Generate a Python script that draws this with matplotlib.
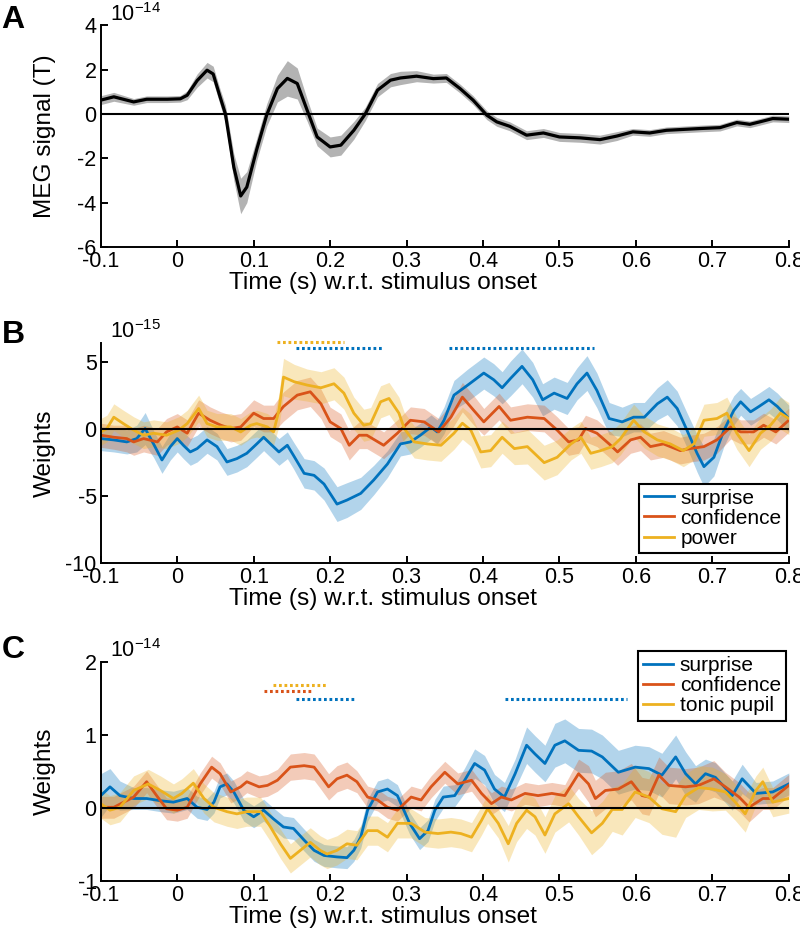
import numpy as np
import matplotlib
matplotlib.use("Agg")
import matplotlib.pyplot as plt

plt.rcParams['font.family'] = ['Liberation Sans', 'DejaVu Sans']
plt.rcParams['axes.unicode_minus'] = False
plt.rcParams['mathtext.fontset'] = 'custom'
plt.rcParams['mathtext.rm'] = 'Liberation Sans'

BLUE = '#0072BD'
RED = '#D95319'
YEL = '#EDB120'

# panel A: MEG signal (units of 1e-14 T)
tA = [-0.1, -0.083, -0.057, -0.04, -0.013, 0.004, 0.013, 0.026, 0.039, 0.047,
      0.056, 0.063, 0.074, 0.083, 0.091, 0.104, 0.117, 0.131, 0.144, 0.157,
      0.170, 0.183, 0.2, 0.214, 0.231, 0.246, 0.262, 0.279, 0.292, 0.313,
      0.335, 0.352, 0.370, 0.387, 0.405, 0.418, 0.435, 0.457, 0.479, 0.5,
      0.527, 0.553, 0.575, 0.596, 0.618, 0.640, 0.684, 0.710, 0.732, 0.749,
      0.762, 0.779, 0.8]
vA = [0.62, 0.77, 0.54, 0.66, 0.66, 0.68, 0.84, 1.5, 1.97, 1.8,
      0.77, 0, -2.4, -3.7, -3.3, -1.6, -0.05, 1.14, 1.6, 1.37,
      0.16, -1.04, -1.49, -1.41, -0.74, 0, 1.07, 1.52, 1.62, 1.70,
      1.59, 1.62, 1.14, 0.62, -0.06, -0.36, -0.56, -0.96, -0.86, -1.04,
      -1.08, -1.16, -1.0, -0.81, -0.86, -0.74, -0.66, -0.62, -0.39, -0.47,
      -0.36, -0.21, -0.24]
eA = [0.2, 0.2, 0.15, 0.15, 0.15, 0.15, 0.2, 0.3, 0.35, 0.35,
      0.35, 0.4, 0.6, 0.8, 0.7, 0.5, 0.5, 0.6, 0.8, 0.7,
      0.5, 0.4, 0.45, 0.45, 0.4, 0.3, 0.3, 0.3, 0.3, 0.25,
      0.2, 0.2, 0.2, 0.2, 0.2, 0.2, 0.2, 0.2, 0.2, 0.2,
      0.2, 0.2, 0.2, 0.15, 0.15, 0.15, 0.15, 0.15, 0.15, 0.15,
      0.15, 0.15, 0.15]

# panel B (units of 1e-15)
tB_surp = [-0.1, -0.083, -0.066, -0.053, -0.042, -0.031, -0.02, -0.009, 0, 0.008,
           0.017, 0.026, 0.039, 0.052, 0.065, 0.078, 0.091, 0.104, 0.113, 0.122,
           0.133, 0.144, 0.152, 0.166, 0.179, 0.192, 0.209, 0.222, 0.240, 0.257,
           0.275, 0.292, 0.305, 0.318, 0.332, 0.340, 0.349, 0.362, 0.380, 0.401,
           0.414, 0.425, 0.436, 0.451, 0.465, 0.478, 0.493, 0.510, 0.523, 0.536,
           0.549, 0.565, 0.582, 0.597, 0.611, 0.628, 0.641, 0.654, 0.667, 0.680,
           0.689, 0.702, 0.715, 0.728, 0.737, 0.750, 0.761, 0.774, 0.785, 0.8]
vB_surp = [-0.7, -0.8, -0.95, -0.7, 0.05, -1.1, -2.3, -1.3, -0.7, -1.2,
           -1.7, -1.45, -0.8, -1.3, -2.45, -2.2, -1.8, -1.1, -0.6, -1.1,
           -1.7, -1.2, -1.95, -3.3, -3.45, -4.1, -5.6, -5.3, -4.8, -3.8,
           -2.6, -1.1, -0.95, -0.45, 0.17, -0.2, 0.67, 2.55, 3.3, 4.2,
           3.7, 3.1, 3.8, 4.7, 3.7, 2.2, 2.7, 2.3, 3.4, 4.2,
           2.9, 0.8, 0.55, 0.9, 0.9, 1.9, 2.4, 1.55, -0.1, -1.8,
           -2.8, -2.1, -0.1, 1.4, 2.05, 1.3, 1.7, 2.2, 1.7, 0.8]
eB_surp = [0.9, 0.9, 0.9, 1.0, 1.2, 1.0, 1.0, 1.0, 1.0, 1.0,
           1.0, 1.0, 1.0, 1.0, 1.0, 1.0, 1.0, 1.0, 1.0, 1.0,
           1.0, 1.0, 1.0, 1.1, 1.1, 1.2, 1.3, 1.3, 1.2, 1.1,
           1.0, 0.9, 0.9, 0.9, 0.9, 0.9, 1.0, 1.1, 1.2, 1.2,
           1.2, 1.2, 1.3, 1.3, 1.3, 1.2, 1.2, 1.2, 1.2, 1.3,
           1.3, 1.2, 1.1, 1.1, 1.1, 1.2, 1.3, 1.3, 1.3, 1.4,
           1.5, 1.4, 1.2, 1.1, 1.0, 1.0, 1.0, 1.0, 1.0, 1.0]

tB_conf = [-0.1, -0.083, -0.066, -0.057, -0.044, -0.026, -0.014, 0, 0.013, 0.028,
           0.043, 0.057, 0.07, 0.083, 0.1, 0.113, 0.126, 0.139, 0.157, 0.174,
           0.188, 0.2, 0.214, 0.225, 0.238, 0.248, 0.270, 0.288, 0.305, 0.323,
           0.342, 0.358, 0.373, 0.388, 0.401, 0.421, 0.436, 0.458, 0.48, 0.497,
           0.512, 0.525, 0.534, 0.549, 0.565, 0.576, 0.593, 0.606, 0.619, 0.636,
           0.658, 0.671, 0.689, 0.706, 0.724, 0.737, 0.754, 0.767, 0.783, 0.8]
vB_conf = [-0.45, -0.6, -0.7, -0.95, -0.7, -0.95, -0.2, 0.17, -0.3, 1.2,
           0.67, 0.3, 0.05, 0.17, 1.2, 0.8, 0.8, 1.7, 2.55, 2.8,
           1.9, 0.55, 0.05, -1.2, -0.45, -0.45, -1.2, -0.3, 0.67, 0.55,
           -0.2, 0.9, 2.4, 1.4, 0.55, 1.7, 0.67, 0.9, 0.8, -0.07,
           -0.95, -0.8, 0.05, -0.3, -1.1, -1.7, -0.8, -0.6, -1.3, -1.1,
           -1.6, -1.45, -1.3, -0.8, 0.17, -0.2, -0.2, 0.3, -0.2, 0.67]
eB_conf = [0.9, 0.9, 1.0, 1.0, 1.0, 1.0, 1.0, 1.0, 1.0, 1.0,
           1.0, 1.0, 1.0, 1.0, 1.0, 1.0, 1.0, 1.1, 1.1, 1.1,
           1.1, 1.1, 1.1, 1.1, 1.0, 1.0, 1.0, 1.0, 1.0, 1.0,
           1.0, 1.0, 1.1, 1.1, 1.0, 1.0, 1.0, 1.0, 1.0, 1.0,
           1.0, 1.0, 1.0, 1.0, 1.0, 1.0, 1.0, 1.0, 1.0, 1.0,
           1.0, 1.0, 1.0, 1.0, 0.9, 0.9, 0.9, 0.9, 0.9, 0.9]

tB_pow = [-0.1, -0.092, -0.083, -0.07, -0.057, -0.044, -0.031, -0.014, 0.002, 0.013,
          0.028, 0.039, 0.052, 0.07, 0.083, 0.096, 0.104, 0.118, 0.126, 0.133,
          0.139, 0.153, 0.170, 0.188, 0.205, 0.218, 0.231, 0.244, 0.253, 0.266,
          0.277, 0.290, 0.297, 0.310, 0.327, 0.345, 0.362, 0.373, 0.384, 0.397,
          0.410, 0.425, 0.441, 0.458, 0.480, 0.497, 0.515, 0.528, 0.541, 0.554,
          0.569, 0.580, 0.597, 0.611, 0.628, 0.645, 0.662, 0.676, 0.689, 0.706,
          0.719, 0.732, 0.748, 0.763, 0.776, 0.789, 0.8]
vB_pow = [-0.2, 0.05, 0.9, 0.4, -0.07, -0.45, -0.3, -0.45, -0.07, 0.42,
          1.55, 0.42, 0.17, 0.17, -0.2, 0.3, 0.42, 0.17, -0.2, 1.4,
          3.9, 3.55, 3.3, 3.1, 3.4, 2.7, 1.2, 0.3, 0.42, 2.05,
          2.3, 1.2, 0.05, -0.95, -1.1, -1.2, -0.3, 0.45, -0.07, -1.7,
          -1.6, -0.6, -1.45, -1.3, -2.5, -2.1, -1.1, -0.6, -1.8, -1.6,
          -1.3, -0.7, 0.67, -0.2, -0.8, -1.1, -1.6, -1.1, 0.67, 0.8,
          1.2, -0.3, -1.6, -0.3, 0.3, 1.2, 0.8]
eB_pow = [1.0, 1.0, 1.0, 1.0, 1.0, 1.0, 1.0, 1.0, 1.0, 1.0,
          1.0, 1.0, 1.0, 1.0, 1.0, 1.0, 1.0, 1.0, 1.0, 1.2,
          1.4, 1.3, 1.2, 1.2, 1.2, 1.2, 1.2, 1.2, 1.2, 1.2,
          1.2, 1.2, 1.2, 1.2, 1.2, 1.2, 1.2, 1.2, 1.2, 1.2,
          1.2, 1.2, 1.2, 1.3, 1.3, 1.3, 1.2, 1.2, 1.2, 1.2,
          1.2, 1.2, 1.2, 1.2, 1.2, 1.2, 1.2, 1.2, 1.2, 1.2,
          1.2, 1.2, 1.2, 1.2, 1.2, 1.2, 1.2]

# significant clusters B: start, end, height, colour
sigB_start = [0.130, 0.155, 0.356]
sigB_end = [0.218, 0.268, 0.545]
sigB_y = [6.5, 6.05, 6.05]
sigB_col = [YEL, BLUE, BLUE]

# panel C (units of 1e-14)
tC_surp = [-0.1, -0.088, -0.075, -0.057, -0.040, -0.022, -0.005, 0.013, 0.026, 0.039,
           0.048, 0.056, 0.065, 0.074, 0.087, 0.1, 0.113, 0.126, 0.139, 0.152,
           0.166, 0.179, 0.192, 0.209, 0.222, 0.231, 0.240, 0.249, 0.262, 0.275,
           0.288, 0.304, 0.317, 0.328, 0.337, 0.348, 0.363, 0.376, 0.389, 0.402,
           0.415, 0.428, 0.442, 0.457, 0.468, 0.481, 0.494, 0.507, 0.525, 0.542,
           0.556, 0.577, 0.599, 0.617, 0.634, 0.652, 0.665, 0.678, 0.691, 0.704,
           0.726, 0.739, 0.757, 0.779, 0.8]
vC_surp = [0.17, 0.29, 0.17, 0.13, 0.13, 0.1, 0.08, 0.13, 0.01, -0.02,
           0.08, 0.29, 0.33, 0.22, -0.03, -0.12, -0.03, -0.15, -0.26, -0.28,
           -0.44, -0.58, -0.65, -0.67, -0.68, -0.58, -0.40, -0.03, 0.22, 0.26,
           0.17, -0.21, -0.42, -0.31, -0.03, 0.15, 0.17, 0.38, 0.61, 0.52,
           0.26, 0.15, 0.47, 0.86, 0.74, 0.61, 0.86, 0.92, 0.79, 0.78,
           0.70, 0.49, 0.56, 0.54, 0.45, 0.70, 0.47, 0.33, 0.47, 0.42,
           0.17, 0.40, 0.20, 0.22, 0.33]
eC_surp = [0.3, 0.25, 0.2, 0.15, 0.15, 0.15, 0.15, 0.15, 0.15, 0.15,
           0.15, 0.15, 0.15, 0.15, 0.15, 0.15, 0.15, 0.15, 0.15, 0.15,
           0.15, 0.15, 0.15, 0.15, 0.15, 0.15, 0.15, 0.15, 0.15, 0.15,
           0.15, 0.15, 0.15, 0.15, 0.15, 0.15, 0.15, 0.17, 0.2, 0.2,
           0.2, 0.2, 0.2, 0.25, 0.25, 0.25, 0.3, 0.3, 0.3, 0.3,
           0.3, 0.3, 0.3, 0.3, 0.3, 0.3, 0.3, 0.25, 0.2, 0.2,
           0.2, 0.2, 0.15, 0.15, 0.15]

tC_conf = [-0.1, -0.083, -0.070, -0.057, -0.040, -0.027, -0.014, 0, 0.013, 0.030,
           0.045, 0.056, 0.070, 0.083, 0.091, 0.107, 0.118, 0.131, 0.148, 0.166,
           0.179, 0.187, 0.198, 0.209, 0.222, 0.235, 0.249, 0.262, 0.275, 0.288,
           0.306, 0.319, 0.332, 0.350, 0.367, 0.385, 0.398, 0.411, 0.424, 0.437,
           0.455, 0.472, 0.490, 0.507, 0.525, 0.538, 0.547, 0.560, 0.577, 0.594,
           0.608, 0.617, 0.630, 0.643, 0.665, 0.682, 0.702, 0.717, 0.735, 0.748,
           0.766, 0.779, 0.8]
vC_conf = [0.01, 0.01, 0.08, 0.15, 0.36, 0.17, -0.01, -0.03, 0.01, 0.33,
           0.56, 0.47, 0.22, 0.29, 0.36, 0.29, 0.31, 0.38, 0.56, 0.58,
           0.56, 0.45, 0.29, 0.40, 0.45, 0.36, 0.15, 0.11, 0.01, -0.03,
           0.15, 0.11, 0.29, 0.49, 0.33, 0.38, 0.20, 0.06, 0.15, 0.11,
           0.20, 0.17, 0.20, 0.17, 0.47, 0.33, 0.13, 0.24, 0.26, 0.36,
           0.17, 0.15, 0.45, 0.31, 0.29, 0.31, 0.40, 0.29, 0.15, 0.01,
           0.13, 0.13, 0.31]
eC_conf = [0.15, 0.15, 0.15, 0.15, 0.15, 0.15, 0.15, 0.15, 0.15, 0.15,
           0.15, 0.15, 0.15, 0.15, 0.15, 0.15, 0.15, 0.15, 0.18, 0.18,
           0.18, 0.18, 0.18, 0.18, 0.18, 0.15, 0.15, 0.15, 0.15, 0.15,
           0.15, 0.15, 0.15, 0.15, 0.15, 0.15, 0.15, 0.15, 0.15, 0.15,
           0.15, 0.15, 0.15, 0.15, 0.2, 0.25, 0.25, 0.25, 0.25, 0.25,
           0.25, 0.25, 0.25, 0.25, 0.25, 0.25, 0.25, 0.2, 0.2, 0.2,
           0.15, 0.15, 0.15]

tC_pup = [-0.1, -0.088, -0.075, -0.057, -0.038, -0.022, -0.005, 0.006, 0.021, 0.035,
          0.048, 0.065, 0.078, 0.091, 0.109, 0.122, 0.135, 0.148, 0.161, 0.174,
          0.187, 0.196, 0.209, 0.222, 0.235, 0.249, 0.262, 0.275, 0.288, 0.306,
          0.324, 0.341, 0.358, 0.371, 0.385, 0.398, 0.406, 0.420, 0.433, 0.444,
          0.457, 0.468, 0.481, 0.494, 0.512, 0.525, 0.542, 0.556, 0.569, 0.582,
          0.599, 0.617, 0.634, 0.652, 0.665, 0.682, 0.700, 0.717, 0.730, 0.743,
          0.757, 0.766, 0.779, 0.8]
vC_pup = [0.06, -0.03, 0.01, 0.24, 0.33, 0.24, 0.13, 0.20, 0.34, 0.13,
          0.01, -0.05, -0.08, -0.05, -0.05, -0.26, -0.49, -0.69, -0.58, -0.47,
          -0.58, -0.63, -0.58, -0.49, -0.51, -0.31, -0.31, -0.40, -0.21, -0.21,
          -0.33, -0.35, -0.33, -0.35, -0.40, -0.17, -0.01, -0.21, -0.49, -0.21,
          -0.03, -0.12, -0.37, -0.08, 0.06, -0.12, -0.34, -0.21, -0.02, -0.02,
          0.22, 0.15, -0.01, -0.05, 0.17, 0.28, 0.26, 0.22, 0.08, -0.08,
          0.24, 0.36, 0.08, 0.13]
eC_pup = [0.2, 0.2, 0.2, 0.2, 0.2, 0.2, 0.2, 0.2, 0.2, 0.2,
          0.2, 0.2, 0.2, 0.2, 0.2, 0.2, 0.2, 0.2, 0.2, 0.2,
          0.2, 0.2, 0.2, 0.2, 0.2, 0.2, 0.2, 0.2, 0.2, 0.2,
          0.2, 0.2, 0.2, 0.2, 0.2, 0.2, 0.2, 0.2, 0.25, 0.25,
          0.25, 0.25, 0.25, 0.25, 0.25, 0.25, 0.3, 0.3, 0.3, 0.35,
          0.35, 0.35, 0.35, 0.35, 0.3, 0.3, 0.3, 0.25, 0.25, 0.25,
          0.2, 0.2, 0.2, 0.2]

sigC_start = [0.125, 0.114, 0.155, 0.429]
sigC_end = [0.194, 0.178, 0.233, 0.588]
sigC_y = [1.685, 1.60, 1.50, 1.50]
sigC_col = [YEL, RED, BLUE, BLUE]

xticks = [-0.1, 0, 0.1, 0.2, 0.3, 0.4, 0.5, 0.6, 0.7, 0.8]
xticklabels = ['-0.1', '0', '0.1', '0.2', '0.3', '0.4', '0.5', '0.6', '0.7', '0.8']
XLABEL = 'Time (s) w.r.t. stimulus onset'


def style_axes(ax, yticks, ylim, expo, ylabel):
    ax.set_xlim(-0.1, 0.8)
    ax.set_ylim(*ylim)
    ax.set_xticks(xticks, xticklabels)
    ax.set_yticks(yticks, [str(v) for v in yticks])
    for s in ['top', 'right']:
        ax.spines[s].set_visible(False)
    for s in ['left', 'bottom']:
        ax.spines[s].set_linewidth(1.4)
    ax.tick_params(direction='in', length=5, width=1.4, labelsize=15.5, pad=3)
    ax.set_xlabel(XLABEL, fontsize=17.6, labelpad=0, x=0.41)
    ax.set_ylabel(ylabel, fontsize=17.6)
    ax.yaxis.set_label_coords(-0.065, 0.5)
    ax.text(0.014, 0.998, r'$\mathregular{10^{' + expo + '}}$', transform=ax.transAxes,
            fontsize=15.5, ha='left', va='bottom')


def series(ax, t, v, e, col, label):
    t = np.array(t)
    v = np.array(v)
    e = np.array(e)
    ax.fill_between(t, v - e, v + e, color=col, alpha=0.3, lw=0)
    ax.plot(t, v, color=col, lw=2, label=label, solid_joinstyle='round')


def add_legend(ax, loc, anchor):
    leg = ax.legend(loc=loc, bbox_to_anchor=anchor, fontsize=15,
                    frameon=True, fancybox=False, framealpha=1, edgecolor='black',
                    handlelength=1.45, handletextpad=0.3, labelspacing=0.05,
                    borderpad=0.25, borderaxespad=0)
    leg.get_frame().set_linewidth(1.5)


fig = plt.figure(figsize=(8, 9.32), dpi=100)

# A
axA = fig.add_axes([0.126, 0.735, 0.86, 0.238])
a = np.array(vA)
ea = np.array(eA)
axA.fill_between(tA, a - ea, a + ea, color='#b3b3b3', lw=0)
axA.axhline(0, color='black', lw=1.5)
axA.plot(tA, vA, color='black', lw=2.3, solid_joinstyle='round')
style_axes(axA, [-6, -4, -2, 0, 2, 4], (-6, 4), '-14', 'MEG signal (T)')

# B
axB = fig.add_axes([0.126, 0.396, 0.86, 0.236])
series(axB, tB_surp, vB_surp, eB_surp, BLUE, 'surprise')
series(axB, tB_conf, vB_conf, eB_conf, RED, 'confidence')
series(axB, tB_pow, vB_pow, eB_pow, YEL, 'power')
axB.axhline(0, color='black', lw=1.5)
for s0, s1, y, c in zip(sigB_start, sigB_end, sigB_y, sigB_col):
    axB.plot([s0, s1], [y, y], color=c, lw=2.2, ls=(0, (0.9, 0.9)), clip_on=False)
style_axes(axB, [-10, -5, 0, 5], (-10, 6.45), '-15', 'Weights')
add_legend(axB, 'lower right', (0.997, 0.045))

# C
axC = fig.add_axes([0.126, 0.0547, 0.86, 0.235])
series(axC, tC_surp, vC_surp, eC_surp, BLUE, 'surprise')
series(axC, tC_conf, vC_conf, eC_conf, RED, 'confidence')
series(axC, tC_pup, vC_pup, eC_pup, YEL, 'tonic pupil')
axC.axhline(0, color='black', lw=1.5)
for s0, s1, y, c in zip(sigC_start, sigC_end, sigC_y, sigC_col):
    axC.plot([s0, s1], [y, y], color=c, lw=2.2, ls=(0, (0.9, 0.9)))
style_axes(axC, [-1, 0, 1, 2], (-1, 2), '-14', 'Weights')
add_legend(axC, 'upper right', (0.996, 1.05))

for lab, y in zip(['A', 'B', 'C'], [0.995, 0.657, 0.319]):
    fig.text(0.002, y, lab, fontsize=23, fontweight='bold', va='top', ha='left')

fig.savefig('out.png', dpi=100)
